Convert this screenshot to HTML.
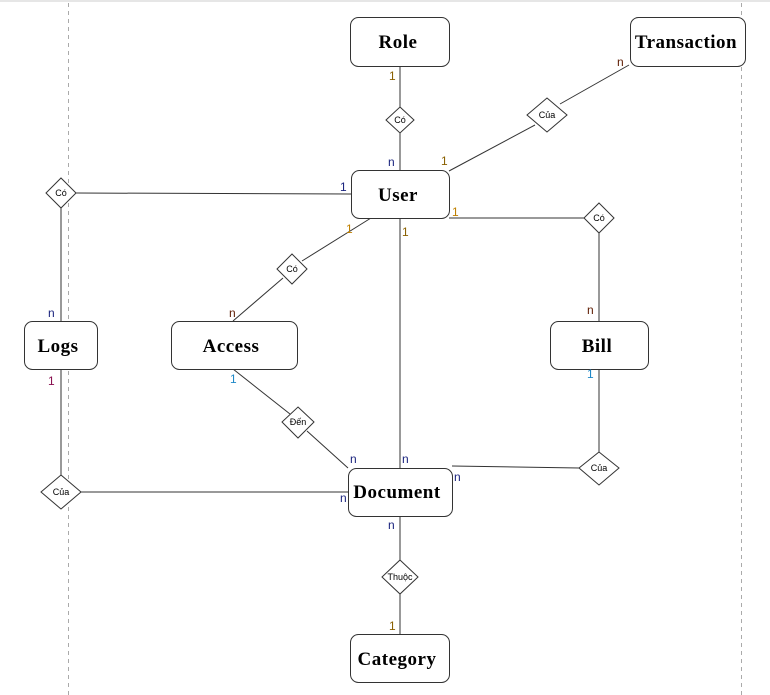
<!DOCTYPE html>
<html><head><meta charset="utf-8"><style>
html,body{margin:0;padding:0;background:#fff;width:770px;height:695px;overflow:hidden}
svg{display:block}
.b{fill:#fff;stroke:#333;stroke-width:1}
.d{font-family:"Liberation Sans",sans-serif;font-size:9px;text-anchor:middle;fill:#000}
.l{font-family:"Liberation Sans",sans-serif;font-size:12px;fill:#111}
line{stroke:#333;stroke-width:1;fill:none}
</style></head><body>
<svg width="770" height="695" viewBox="0 0 770 695">
<rect x="0" y="0" width="770" height="2" fill="#e6e6e6"/>
<line x1="68.5" y1="3" x2="68.5" y2="695" style="stroke:#aaa" stroke-dasharray="4,4"/>
<line x1="741.5" y1="3" x2="741.5" y2="695" style="stroke:#aaa" stroke-dasharray="4,4"/>

<line x1="400" y1="66" x2="400" y2="107"/>
<line x1="400" y1="133" x2="400" y2="170"/>
<line x1="629" y1="65" x2="560" y2="104"/>
<line x1="535" y1="125" x2="449" y2="171"/>
<line x1="351" y1="194" x2="76" y2="193"/>
<line x1="61" y1="208" x2="61" y2="321"/>
<line x1="371" y1="218" x2="302" y2="261"/>
<line x1="283" y1="278" x2="233" y2="321"/>
<line x1="400" y1="218" x2="400" y2="468"/>
<line x1="449" y1="218" x2="585" y2="218"/>
<line x1="599" y1="232" x2="599" y2="321"/>
<line x1="233" y1="369" x2="290" y2="414"/>
<line x1="307" y1="431" x2="348" y2="468"/>
<line x1="61" y1="369" x2="61" y2="475"/>
<line x1="81" y1="492" x2="348" y2="492"/>
<line x1="599" y1="369" x2="599" y2="452"/>
<line x1="579" y1="468" x2="452" y2="466"/>
<line x1="400" y1="516" x2="400" y2="560"/>
<line x1="400" y1="594" x2="400" y2="634"/>

<g style="font-family:'Liberation Serif','DejaVu Serif',serif;font-weight:bold;font-size:19px;text-anchor:middle;fill:#000;letter-spacing:0.5px">
<rect class="b" x="350.5" y="17.5" width="99" height="49" rx="8"/><text x="398" y="48">Role</text>
<rect class="b" x="630.5" y="17.5" width="115" height="49" rx="8"/><text x="686" y="48">Transaction</text>
<rect class="b" x="351.5" y="170.5" width="98" height="48" rx="8"/><text x="398" y="201">User</text>
<rect class="b" x="24.5" y="321.5" width="73" height="48" rx="8"/><text x="58" y="352">Logs</text>
<rect class="b" x="171.5" y="321.5" width="126" height="48" rx="8"/><text x="231" y="352">Access</text>
<rect class="b" x="550.5" y="321.5" width="98" height="48" rx="8"/><text x="597" y="352">Bill</text>
<rect class="b" x="348.5" y="468.5" width="104" height="48" rx="8"/><text x="397" y="498">Document</text>
<rect class="b" x="350.5" y="634.5" width="99" height="48" rx="8"/><text x="397" y="665">Category</text>
</g>

<polygon class="b" points="400,107 414,120 400,133 386,120"/><text class="d" x="400" y="123">Có</text>
<polygon class="b" points="547,98 567,115 547,132 527,115"/><text class="d" x="547" y="118">Của</text>
<polygon class="b" points="61,178 76,193 61,208 46,193"/><text class="d" x="61" y="196">Có</text>
<polygon class="b" points="292,254 307,269 292,284 277,269"/><text class="d" x="292" y="272">Có</text>
<polygon class="b" points="599,203 614,218 599,233 584,218"/><text class="d" x="599" y="221">Có</text>
<polygon class="b" points="298,407 314,422 298,438 282,422"/><text class="d" x="298" y="425">Đến</text>
<polygon class="b" points="61,475 81,492 61,509 41,492"/><text class="d" x="61" y="495">Của</text>
<polygon class="b" points="599,452 619,468 599,485 579,468"/><text class="d" x="599" y="471">Của</text>
<polygon class="b" points="400,560 418,577 400,594 382,577"/><text class="d" x="400" y="580">Thuộc</text>

<text class="l" x="389" y="80" style="fill:#8a6000">1</text>
<text class="l" x="388" y="166" style="fill:#1a237e">n</text>
<text class="l" x="617" y="66" style="fill:#5d1a00">n</text>
<text class="l" x="441" y="165" style="fill:#8a6000">1</text>
<text class="l" x="340" y="191" style="fill:#1a237e">1</text>
<text class="l" x="48" y="317" style="fill:#1a237e">n</text>
<text class="l" x="346" y="233" style="fill:#c08000">1</text>
<text class="l" x="229" y="317" style="fill:#5d1a00">n</text>
<text class="l" x="402" y="236" style="fill:#8a6000">1</text>
<text class="l" x="452" y="216" style="fill:#c08000">1</text>
<text class="l" x="587" y="314" style="fill:#5d1a00">n</text>
<text class="l" x="230" y="383" style="fill:#1e88c8">1</text>
<text class="l" x="48" y="385" style="fill:#880e4f">1</text>
<text class="l" x="587" y="378" style="fill:#1e88c8">1</text>
<text class="l" x="350" y="463" style="fill:#1a237e">n</text>
<text class="l" x="402" y="463" style="fill:#1a237e">n</text>
<text class="l" x="454" y="481" style="fill:#1a237e">n</text>
<text class="l" x="340" y="502" style="fill:#1a237e">n</text>
<text class="l" x="388" y="529" style="fill:#1a237e">n</text>
<text class="l" x="389" y="630" style="fill:#8a6000">1</text>
</svg>
</body></html>
